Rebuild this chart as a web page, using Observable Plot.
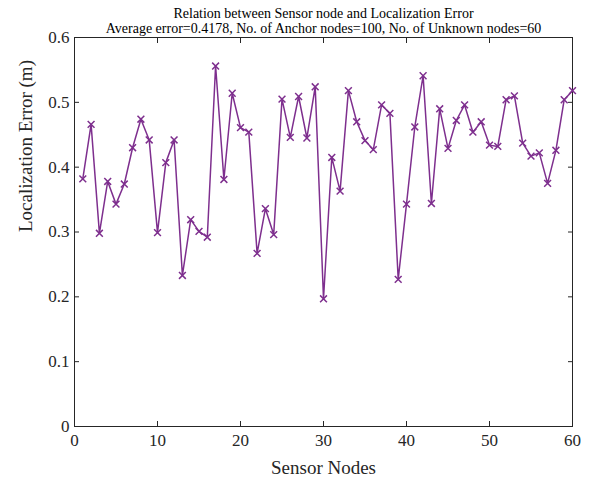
<!DOCTYPE html>
<html>
<head>
<meta charset="utf-8">
<script src="https://cdn.jsdelivr.net/npm/d3@7"></script>
<script src="https://cdn.jsdelivr.net/npm/@observablehq/plot@0.6"></script>
<style>
  html, body { margin: 0; padding: 0; background: #fff; }
  #chart svg { display: block; }
</style>
</head>
<body>
<div id="chart"></div>
<script>
const nodes = d3.range(1, 61);
const errors = [
  0.382, 0.466, 0.298, 0.378, 0.343, 0.374, 0.430, 0.474, 0.442, 0.299,
  0.407, 0.442, 0.233, 0.319, 0.301, 0.292, 0.556, 0.381, 0.514, 0.461,
  0.454, 0.267, 0.336, 0.296, 0.505, 0.446, 0.509, 0.445, 0.524, 0.197,
  0.415, 0.363, 0.518, 0.470, 0.441, 0.427, 0.496, 0.483, 0.227, 0.343,
  0.462, 0.541, 0.344, 0.490, 0.429, 0.472, 0.496, 0.454, 0.470, 0.434,
  0.432, 0.504, 0.510, 0.437, 0.417, 0.422, 0.375, 0.426, 0.504, 0.518
];
const xTicks = [0, 10, 20, 30, 40, 50, 60];
const yTicks = [0, 0.1, 0.2, 0.3, 0.4, 0.5, 0.6];
const titleLines = [
  "Relation between Sensor node and Localization Error",
  "Average error=0.4178, No. of Anchor nodes=100, No. of Unknown nodes=60"
];
const data = nodes.map((n, i) => ({node: n, err: errors[i]}));
const color = "#7E2F8E";
const axisColor = "#262626";

const chart = Plot.plot({
  width: 592,
  height: 481,
  marginLeft: 74,
  marginRight: 20,
  marginTop: 37,
  marginBottom: 55,
  style: {fontFamily: "Liberation Serif", background: "#fff", color: axisColor},
  x: {domain: [0, 60], label: null},
  y: {domain: [0, 0.6], label: null},
  marks: [
    Plot.frame({stroke: axisColor, strokeWidth: 1}),
    // tick labels
    Plot.axisX({ticks: xTicks, tickSize: 0, tickPadding: 7, fontSize: 17, tickFormat: d => d, fill: axisColor}),
    Plot.axisY({ticks: yTicks, tickSize: 0, tickPadding: 5, fontSize: 17, tickFormat: d => d === 0 ? "0" : d3.format(".1f")(d), fill: axisColor}),
    // inward ticks on all sides
    Plot.axisX({ticks: xTicks, anchor: "bottom", tickSize: -5, tickFormat: () => "", stroke: axisColor}),
    Plot.axisX({ticks: xTicks, anchor: "top", tickSize: -5, tickFormat: () => "", stroke: axisColor}),
    Plot.axisY({ticks: yTicks, anchor: "left", tickSize: -5, tickFormat: () => "", stroke: axisColor}),
    Plot.axisY({ticks: yTicks, anchor: "right", tickSize: -5, tickFormat: () => "", stroke: axisColor}),
    // axis labels
    Plot.text(["Sensor Nodes"], {frameAnchor: "bottom", lineAnchor: "middle", dy: 41, fontSize: 19, fill: axisColor}),
    Plot.text(["Localization Error (m)"], {frameAnchor: "left", dx: -49, rotate: -90, fontSize: 19, fill: axisColor}),
    // titles
    Plot.text([titleLines[0]], {frameAnchor: "top", lineAnchor: "middle", dy: -24, fontSize: 14, fill: "#000"}),
    Plot.text([titleLines[1]], {frameAnchor: "top", lineAnchor: "middle", dy: -9, fontSize: 14, fill: "#000"}),
    // data
    Plot.line(data, {x: "node", y: "err", stroke: color, strokeWidth: 1.5}),
    Plot.dot(data, {x: "node", y: "err", symbol: "times", r: 3.2, stroke: color, strokeWidth: 1.5})
  ]
});
document.getElementById("chart").appendChild(chart);
</script>
</body>
</html>
